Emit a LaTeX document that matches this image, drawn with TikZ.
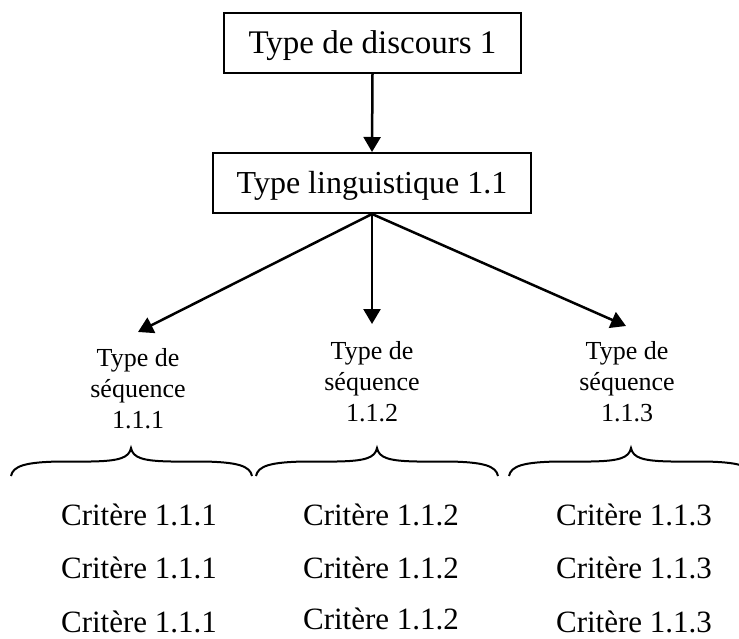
\documentclass[tikz,border=0pt]{standalone}
\usepackage{fontspec}
\setmainfont{Liberation Serif}
\usetikzlibrary{arrows.meta}
\newcommand\drawbrace[3]{%
  \draw[brc] (#1,476) .. controls (#1+2,466) and (#1+14,462) .. (#1+50,461.5)
    -- (#2-40,461.5) .. controls (#2-12,461) and (#2-2,458) .. (#2,448)
    .. controls (#2+2,458) and (#2+12,461) .. (#2+40,461.5)
    -- (#3-50,461.5) .. controls (#3-14,462) and (#3-2,466) .. (#3,476);}
\begin{document}
\begin{tikzpicture}[x=1pt,y=-1pt,
  box/.style={draw,line width=2pt,inner sep=0pt,text height=22pt,text depth=0pt},
  arr/.style={line width=2.5pt,-{Triangle[width=17pt,length=15pt]}},
  seq/.style={font=\fontsize{26}{31}\selectfont,align=center,inner sep=0pt,anchor=base},
  crit/.style={font=\fontsize{31}{37}\selectfont,inner sep=0pt,anchor=base},
  brc/.style={line width=2pt}]
\clip (0,0) rectangle (739,639);
\node[box,font=\fontsize{33}{38}\selectfont,minimum width=297pt,minimum height=60pt] (disc) at (372.5,43) {Type de discours 1};
\node[box,font=\fontsize{32}{38}\selectfont,minimum width=318pt,minimum height=60pt] (ling) at (372,183) {Type linguistique 1.1};
\draw[arr] (disc.south) -- (ling.north);
\coordinate (t1) at (138,332);
\coordinate (t2) at (372,324);
\coordinate (t3) at (626,326);
\draw[arr] (ling.south) -- (t1);
\draw[arr] (ling.south) -- (t2);
\draw[arr] (ling.south) -- (t3);
\node[seq] (s1) at (138,428) {Type de\\séquence\\1.1.1};
\node[seq] (s2) at (372,421) {Type de\\séquence\\1.1.2};
\node[seq] (s3) at (627,421) {Type de\\séquence\\1.1.3};
\drawbrace{11}{131}{252}
\drawbrace{256}{377}{498}
\drawbrace{509}{631}{753}
\foreach \r/\y in {1/525,2/578,3/632}{
  \node[crit] (c1\r) at (139,\y) {Critère 1.1.1};
  \node[crit] (c3\r) at (634,\y) {Critère 1.1.3};
}
\node[crit] (c21) at (381,525) {Critère 1.1.2};
\node[crit] (c22) at (381,578) {Critère 1.1.2};
\node[crit] (c23) at (381,629) {Critère 1.1.2};
\end{tikzpicture}
\end{document}
